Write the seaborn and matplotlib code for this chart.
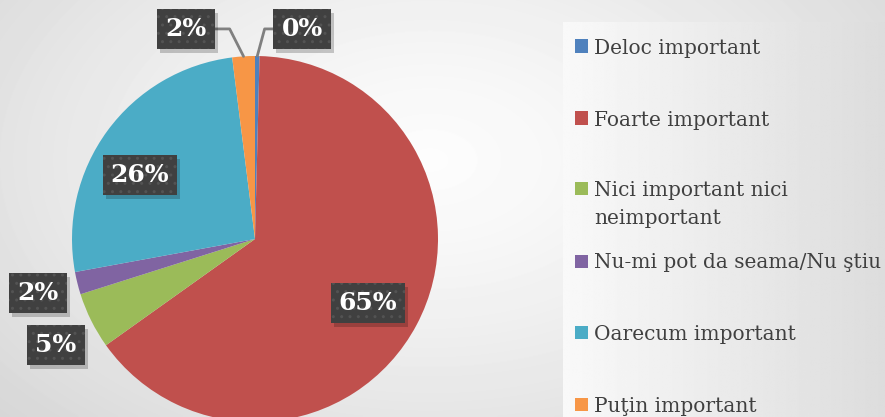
import numpy as np
import matplotlib
matplotlib.use("Agg")
import matplotlib.pyplot as plt
from matplotlib.patches import Rectangle
import seaborn as sns

categories = ["Deloc important", "Foarte important", "Nici important nici\nneimportant",
              "Nu-mi pot da seama/Nu ştiu", "Oarecum important", "Puţin important"]
values = [0.4, 65, 5, 2, 26, 2]
pct_labels = ["0%", "65%", "5%", "2%", "26%", "2%"]
colors = ["#4F81BD", "#C0504D", "#9BBB59", "#8064A2", "#4BACC6", "#F79646"]

# label positions (data coords, pie radius = 1)
label_pos = [(0.257, 1.148), (0.617, -0.35), (-1.087, -0.579),
             (-1.186, -0.295), (-0.628, 0.35), (-0.377, 1.148)]
leader = [True, False, False, False, False, True]
legend_y = [46, 118, 188, 261, 332, 404]

sns.set_theme(style="white")
plt.rcParams["font.family"] = ["DejaVu Serif", "DejaVu Sans"]
plt.rcParams["hatch.linewidth"] = 1.0

W, H = 885, 417
fig = plt.figure(figsize=(W / 100, H / 100), dpi=100)

# background gradient
bg = fig.add_axes([0, 0, 1, 1])
yy, xx = np.mgrid[0:H, 0:W]
d = np.sqrt(((xx - 430) / 560.0) ** 2 + ((yy - 160) / 360.0) ** 2)
grad = 0.99 - 0.14 * np.clip(d, 0, 1.4) ** 1.3
bg.imshow(grad, cmap="gray", vmin=0, vmax=1, extent=[0, 1, 0, 1], aspect="auto",
          interpolation="bilinear")
bg.axis("off")

# legend panel
lx0, ly0 = 563, 22
lg = fig.add_axes([lx0 / W, 0, 1 - lx0 / W, (H - ly0) / H])
lgrad = np.repeat(np.linspace(0.975, 0.865, 200)[None, :], 10, axis=0)
lg.imshow(lgrad, cmap="gray", vmin=0, vmax=1, extent=[0, 1, 0, 1], aspect="auto",
          interpolation="bilinear")
lg.axis("off")

# pie
cx, cy, r = 255, 239, 183
ax = fig.add_axes([(cx - r) / W, (H - cy - r) / H, 2 * r / W, 2 * r / H])
ax.pie(values, colors=colors, startangle=90, counterclock=False,
       wedgeprops=dict(linewidth=0))
ax.set_xlim(-1, 1)
ax.set_ylim(-1, 1)
ax.set_aspect("auto")
ax.axis("off")

cum = np.cumsum(values)
total = cum[-1]
texts = []
for i, (lab, (tx, ty)) in enumerate(zip(pct_labels, label_pos)):
    if leader[i]:
        mid = (cum[i] - values[i] / 2) / total * 2 * np.pi
        ex, ey = np.sin(mid), np.cos(mid)
        off = 0.04 if tx > ex else -0.076
        ax.plot([ex, ex + off, tx], [ey, ty, ty], color="#808080", lw=2,
                zorder=3, clip_on=False)
    t = ax.text(tx, ty, lab, ha="center", va="center", fontsize=18,
                fontweight="bold", color="white", zorder=5,
                bbox=dict(boxstyle="square,pad=0.32", linewidth=0,
                          facecolor="#404040", edgecolor="#535353", hatch=".."))
    texts.append(t)

# drop shadows behind label boxes
fig.canvas.draw()
for t in texts:
    bb = t.get_bbox_patch().get_window_extent()
    ax.add_artist(Rectangle((bb.x0 + 3, bb.y0 - 4), bb.width, bb.height,
                            transform=None, facecolor="black", alpha=0.2,
                            edgecolor="none", zorder=4, clip_on=False))

# legend
for cat, col, y in zip(categories, colors, legend_y):
    fig.add_artist(Rectangle((575 / W, (H - y - 6.5) / H), 13 / W, 13 / H,
                             transform=fig.transFigure, facecolor=col,
                             edgecolor="none"))
    for k, line in enumerate(cat.split("\n")):
        fig.text(594 / W, (H - y - 29 * k) / H, line, ha="left",
                 va="center_baseline", fontsize=14.5, color="#404040")

fig.savefig("out.png", dpi=100)
